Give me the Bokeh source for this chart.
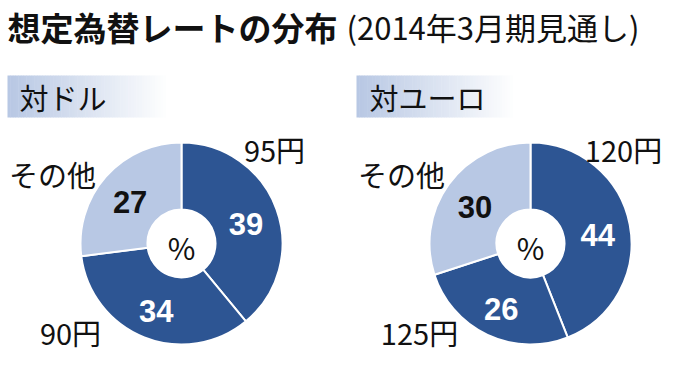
import math
from bokeh.plotting import figure
from bokeh.models import Range1d
from bokeh.embed import file_html
from bokeh.resources import INLINE
from bokeh.core.properties import value

# ---- data ----
title_main = "想定為替レートの分布"
title_sub = "(2014年3月期見通し)"
panel_titles = ["対ドル", "対ユーロ"]
usd_labels = ["95円", "90円", "その他"]
usd_values = [39, 34, 27]
eur_labels = ["120円", "125円", "その他"]
eur_values = [44, 26, 30]
center_mark = "%"

# ---- style / layout ----
FONT = value("Noto Sans CJK JP")
NUMFONT = value("Liberation Sans")
DARK = "#2d5593"
LIGHT = "#b8c8e4"
slice_colors = [DARK, DARK, LIGHT]
num_colors = ["white", "white", "#111111"]
R_OUT, R_IN = 101, 34
label_offsets = [(93, -95), (-111, 88), (-129, -70)]  # category label offset from center (page px)

W, H = 664, 353
p = figure(width=W, height=H, x_range=Range1d(0, W), y_range=Range1d(0, H),
           output_backend="svg", toolbar_location=None, min_border=0)
p.axis.visible = False
p.grid.visible = False
p.outline_line_color = None
p.background_fill_color = "white"
p.border_fill_color = "white"


def Y(ry):
    return H - ry


# title
p.text(x=[7], y=[Y(26)], text=[title_main], text_font=FONT, text_font_size="33px",
       text_font_style="bold", text_align="left", text_baseline="middle", text_color="#111111")
p.text(x=[346], y=[Y(26)], text=[title_sub], text_font=FONT, text_font_size="31px",
       text_align="left", text_baseline="middle", text_color="#111111")

# gradient header boxes
def header(x0, x1, label, tx):
    n = 60
    c0 = (184, 200, 228)
    xs0, xs1, cols = [], [], []
    for i in range(n):
        t = i / (n - 1)
        r = int(c0[0] + (255 - c0[0]) * t)
        g = int(c0[1] + (255 - c0[1]) * t)
        b = int(c0[2] + (255 - c0[2]) * t)
        xs0.append(x0 + (x1 - x0) * i / n)
        xs1.append(x0 + (x1 - x0) * (i + 1) / n + 0.5)
        cols.append("#%02x%02x%02x" % (r, g, b))
    p.quad(left=xs0, right=xs1, top=[Y(75)] * n, bottom=[Y(117)] * n,
           fill_color=cols, line_color=None)
    p.text(x=[tx], y=[Y(96)], text=[label], text_font=FONT, text_font_size="29px",
           text_align="left", text_baseline="middle", text_color="#111111")


header(7, 168, panel_titles[0], 19)
header(356, 515, panel_titles[1], 369)


def donut(cx, cy, labels, values):
    total = float(sum(values))
    cum = 0.0
    starts, ends, mids = [], [], []
    for v in values:
        a0 = math.pi / 2 - 2 * math.pi * cum / total
        cum += v
        a1 = math.pi / 2 - 2 * math.pi * cum / total
        starts.append(a0)
        ends.append(a1)
        mids.append((a0 + a1) / 2)
    p.annular_wedge(x=[cx] * len(values), y=[Y(cy)] * len(values),
                    inner_radius=R_IN, outer_radius=R_OUT,
                    start_angle=starts, end_angle=ends, direction="clock",
                    fill_color=slice_colors, line_color="white", line_width=2)
    rl = (R_IN + R_OUT) / 2 + 1
    p.text(x=[cx + rl * math.cos(m) for m in mids],
           y=[Y(cy) + rl * math.sin(m) - 4 for m in mids],
           text=[str(v) for v in values], text_font=NUMFONT, text_font_size="31px",
           text_font_style="bold", text_color=num_colors,
           text_align="center", text_baseline="middle")
    p.text(x=[cx], y=[Y(cy) - 3], text=[center_mark], text_font=FONT,
           text_font_size="30px", text_align="center", text_baseline="middle",
           text_color="#111111")
    p.text(x=[cx + o[0] for o in label_offsets], y=[Y(cy + o[1]) for o in label_offsets],
           text=labels, text_font=FONT, text_font_size="29px",
           text_align="center", text_baseline="middle", text_color="#111111")


donut(181, 243, usd_labels, usd_values)
donut(530, 243, eur_labels, eur_values)

open("out.html", "w").write(file_html(p, INLINE))
